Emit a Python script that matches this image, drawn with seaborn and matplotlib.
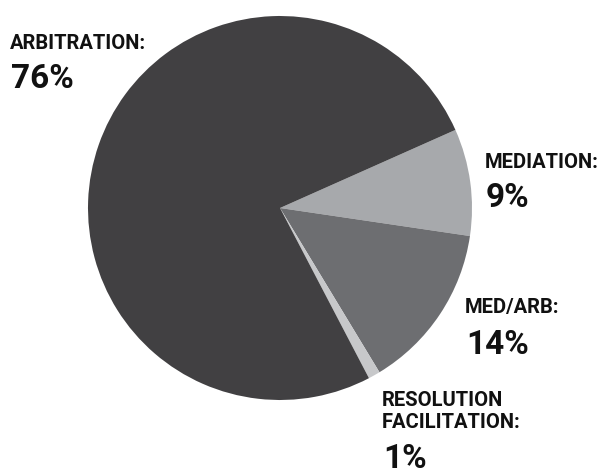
import matplotlib
matplotlib.use("Agg")
import matplotlib.pyplot as plt
import seaborn as sns

# Share of cases by process
labels = ["MEDIATION:", "MED/ARB:", "RESOLUTION\nFACILITATION:", "ARBITRATION:"]
shares = [9, 14, 1, 76]
colors = ["#a7a9ac", "#6d6e71", "#c7c8ca", "#414042"]

sns.set_theme(style="white")
plt.rcParams['font.family'] = ['Roboto', 'DejaVu Sans']

W, H = 603, 468
fig = plt.figure(figsize=(W / 100, H / 100), dpi=100)

# pie centre (280, 208) px, radius 192 px
cx, cy, r = 280, 208, 192
ax = fig.add_axes([(cx - r) / W, (H - cy - r) / H, 2 * r / W, 2 * r / H])
ax.pie(shares, colors=colors, startangle=24, counterclock=False,
       wedgeprops=dict(linewidth=0))
ax.set_xlim(-1, 1)
ax.set_ylim(-1, 1)
ax.set_aspect("equal")
ax.axis("off")

# label anchors: (left x, baseline of name, baseline of percent) in px
anchors = [(485, 168, 207), (465, 313, 354), (382, 428, 468), (10, 49, 88)]


def px(x, y):
    return x / W, 1 - y / H


for lab, val, (x, yb, yp) in zip(labels, shares, anchors):
    fig.text(*px(x, yb), lab, fontsize=14.5, fontweight="bold", color="#111111",
             ha="left", va="baseline", linespacing=1.2)
    fig.text(*px(x + 1, yp), f"{val}%", fontsize=24, fontweight="bold",
             color="#111111", ha="left", va="baseline")

fig.savefig("out.png", dpi=100)
